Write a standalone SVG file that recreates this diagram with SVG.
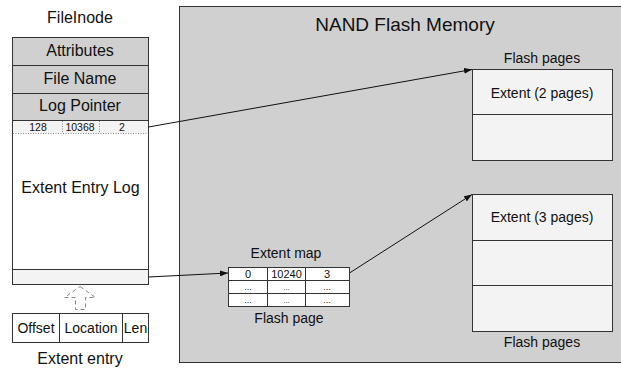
<svg xmlns="http://www.w3.org/2000/svg" width="621" height="368" viewBox="0 0 621 368">
<defs>
<style>
text{font-family:"Liberation Sans",Arial,sans-serif;fill:#111;text-anchor:middle}
.box{stroke:#333;stroke-width:1}
.gray{fill:#d0d0d0}
.light{fill:#f3f3f3}
.white{fill:#fff}
.dot{stroke:#888;stroke-width:1;stroke-dasharray:1 1.5;fill:none}
.conn{stroke:#111;stroke-width:1;fill:none;marker-end:url(#ah)}
</style>
<marker id="ah" markerWidth="8" markerHeight="6" refX="8" refY="3" orient="auto" markerUnits="userSpaceOnUse">
<path d="M0,0 L8,3 L0,6 z" fill="#111"/>
</marker>
</defs>
<rect width="621" height="368" fill="#fff"/>

<g id="nand">
<rect x="179.5" y="6.5" width="450" height="356" class="box gray" stroke="#555"/>
<text x="405" y="31" font-size="19">NAND Flash Memory</text>
</g>

<g id="fileinode">
<text x="80" y="23" font-size="16">FileInode</text>
<rect x="12.5" y="37.5" width="136" height="247" class="box white"/>
<rect x="12.5" y="37.5" width="136" height="28" class="box gray"/>
<rect x="12.5" y="65.5" width="136" height="28" class="box gray"/>
<rect x="12.5" y="93.5" width="136" height="27" class="box gray"/>
<text x="80" y="56" font-size="16">Attributes</text>
<text x="80" y="84" font-size="16">File Name</text>
<text x="80" y="111" font-size="16">Log Pointer</text>
<rect x="13" y="121" width="135" height="12" class="light"/>
<line x1="13" y1="133.5" x2="148" y2="133.5" class="dot"/>
<line x1="62.5" y1="121" x2="62.5" y2="133" class="dot"/>
<line x1="99.5" y1="121" x2="99.5" y2="133" class="dot"/>
<text x="38" y="131" font-size="10.5">128</text>
<text x="80" y="131" font-size="10.5">10368</text>
<text x="122" y="131" font-size="10.5">2</text>
<text x="80.5" y="193" font-size="16">Extent Entry Log</text>
<rect x="12.5" y="269.5" width="136" height="15" class="box light"/>
</g>

<g id="entry-arrow">
<path d="M80,286.5 L95.5,297.5 L85.5,297.5 L85.5,309.5 L75.5,309.5 L75.5,297.5 L64.5,297.5 Z" fill="#fff" stroke="#888" stroke-dasharray="4 3"/>
</g>

<g id="extent-entry">
<rect x="12.5" y="313.5" width="136" height="29" class="box white"/>
<line x1="59.5" y1="313.5" x2="59.5" y2="342.5" class="box"/>
<line x1="122.5" y1="313.5" x2="122.5" y2="342.5" class="box"/>
<text x="36" y="333" font-size="14">Offset</text>
<text x="91" y="333" font-size="14">Location</text>
<text x="135.5" y="333" font-size="14">Len</text>
<text x="80" y="364" font-size="16">Extent entry</text>
</g>

<g id="extent-map">
<text x="286" y="258" font-size="14">Extent map</text>
<rect x="228.5" y="267.5" width="121" height="39" class="box white"/>
<line x1="228.5" y1="280.5" x2="349.5" y2="280.5" class="box"/>
<line x1="228.5" y1="293.5" x2="349.5" y2="293.5" class="box"/>
<line x1="267.5" y1="267.5" x2="267.5" y2="306.5" class="box"/>
<line x1="305.5" y1="267.5" x2="305.5" y2="306.5" class="box"/>
<text x="248" y="278" font-size="11">0</text>
<text x="286.5" y="278" font-size="11">10240</text>
<text x="327" y="278" font-size="11">3</text>
<text x="248" y="290" font-size="9">...</text>
<text x="286.5" y="290" font-size="7">...</text>
<text x="327" y="290" font-size="9">...</text>
<text x="248" y="303" font-size="9">...</text>
<text x="286.5" y="303" font-size="7">...</text>
<text x="327" y="303" font-size="9">...</text>
<text x="289" y="323" font-size="14">Flash page</text>
</g>

<g id="flash-pages-1">
<text x="542" y="63" font-size="14">Flash pages</text>
<rect x="472.5" y="69.5" width="140" height="91" class="box light"/>
<line x1="472.5" y1="114.5" x2="612.5" y2="114.5" class="box"/>
<text x="542" y="98" font-size="14">Extent (2 pages)</text>
</g>

<g id="flash-pages-2">
<rect x="472.5" y="194.5" width="140" height="137" class="box light"/>
<line x1="472.5" y1="240.5" x2="612.5" y2="240.5" class="box"/>
<line x1="472.5" y1="285.5" x2="612.5" y2="285.5" class="box"/>
<text x="542" y="222" font-size="14">Extent (3 pages)</text>
<text x="542" y="347" font-size="14">Flash pages</text>
</g>

<g id="connectors">
<line x1="148.5" y1="127" x2="472" y2="69.5" class="conn"/>
<line x1="148.5" y1="277" x2="228" y2="273" class="conn"/>
<line x1="349.5" y1="273" x2="472" y2="194.5" class="conn"/>
</g>
</svg>
